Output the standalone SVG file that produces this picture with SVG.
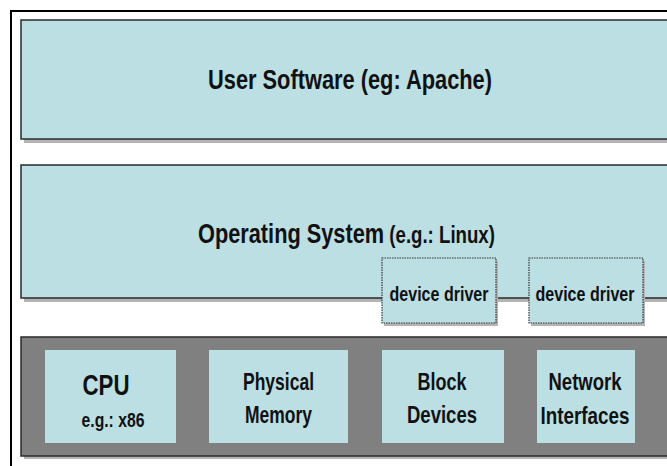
<svg xmlns="http://www.w3.org/2000/svg" width="667" height="466" viewBox="0 0 667 466">
<style>
text{font-family:"Liberation Sans",Arial,sans-serif;font-weight:bold;fill:#111;text-anchor:middle}
.layer{fill:#bbdfe3;stroke:#2a2a2a;stroke-width:1.5}
.hw{fill:#808080;stroke:#2a2a2a;stroke-width:1.5}
.shadow{fill:#b4b4b4}
.comp{fill:#bbdfe3}
.drv{fill:#bbdfe3;stroke:#333;stroke-width:1.2;stroke-dasharray:1.5 1}
</style>
<rect x="0" y="0" width="667" height="466" fill="#fff"/>
<path d="M11 466V11H667" fill="none" stroke="#000" stroke-width="2"/>
<g id="user-software">
<rect class="shadow" x="24" y="24" width="650" height="119"/>
<rect class="layer" x="21" y="20" width="650" height="119"/>
<text x="350" y="89" font-size="28" textLength="284" lengthAdjust="spacingAndGlyphs">User Software (eg: Apache)</text>
</g>
<g id="operating-system">
<rect class="shadow" x="24" y="169" width="650" height="133"/>
<rect class="layer" x="21" y="165" width="650" height="133"/>
<text transform="translate(198,243) scale(0.777,1)" style="text-anchor:start"><tspan font-size="28">Operating System</tspan><tspan font-size="24"> (e.g.: Linux)</tspan></text>
</g>
<g id="device-driver-1">
<rect class="shadow" x="384" y="261" width="114" height="65"/>
<rect class="drv" x="382" y="258" width="114" height="65"/>
<text x="439" y="301" font-size="21" textLength="99" lengthAdjust="spacingAndGlyphs">device driver</text>
</g>
<g id="device-driver-2">
<rect class="shadow" x="531" y="261" width="114" height="65"/>
<rect class="drv" x="529" y="258" width="114" height="65"/>
<text x="585" y="301" font-size="21" textLength="99" lengthAdjust="spacingAndGlyphs">device driver</text>
</g>
<g id="hardware">
<rect class="shadow" x="24" y="340" width="650" height="119"/>
<rect class="hw" x="21" y="337" width="650" height="119"/>
</g>
<g id="cpu">
<rect class="comp" x="45" y="350" width="131" height="93"/>
<text x="106" y="395" font-size="29" textLength="47" lengthAdjust="spacingAndGlyphs">CPU</text>
<text x="113" y="427" font-size="20" textLength="63" lengthAdjust="spacingAndGlyphs">e.g.: x86</text>
</g>
<g id="physical-memory">
<rect class="comp" x="209" y="350" width="139" height="93"/>
<text x="278.5" y="390" font-size="24" textLength="71" lengthAdjust="spacingAndGlyphs">Physical</text>
<text x="278.5" y="423" font-size="24" textLength="67" lengthAdjust="spacingAndGlyphs">Memory</text>
</g>
<g id="block-devices">
<rect class="comp" x="382" y="350" width="122" height="93"/>
<text x="442" y="390" font-size="24" textLength="49" lengthAdjust="spacingAndGlyphs">Block</text>
<text x="442" y="423" font-size="24" textLength="70" lengthAdjust="spacingAndGlyphs">Devices</text>
</g>
<g id="network-interfaces">
<rect class="comp" x="537" y="350" width="98" height="93"/>
<text x="585" y="390" font-size="24" textLength="73" lengthAdjust="spacingAndGlyphs">Network</text>
<text x="585" y="424" font-size="24" textLength="89" lengthAdjust="spacingAndGlyphs">Interfaces</text>
</g>
<g id="connectors"></g>
</svg>
